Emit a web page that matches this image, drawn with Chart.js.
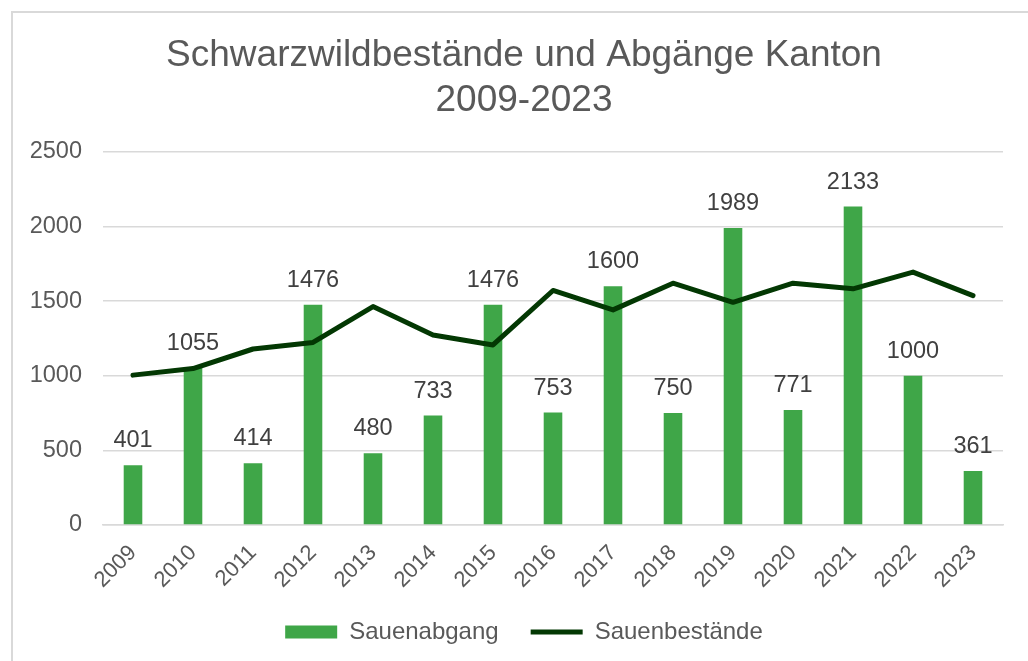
<!DOCTYPE html>
<html>
<head>
<meta charset="utf-8">
<script src="https://cdn.jsdelivr.net/npm/chart.js@4/dist/chart.umd.min.js"></script>
<style>
  html, body { margin: 0; padding: 0; background: #fff; overflow: hidden; width: 1028px; height: 661px; }
  #frame { position: absolute; left: 11px; top: 11px; width: 1040px; height: 700px; border: 2px solid #d9d9d9; box-sizing: border-box; }
  #wrap { position: absolute; left: 13px; top: 13px; width: 1022px; height: 648px; }
</style>
</head>
<body>
<div id="frame"></div>
<div id="wrap"><canvas id="c"></canvas></div>
<script>
const categories = ['2009','2010','2011','2012','2013','2014','2015','2016','2017','2018','2019','2020','2021','2022','2023'];
const sauenabgang = [401, 1055, 414, 1476, 480, 733, 1476, 753, 1600, 750, 1989, 771, 2133, 1000, 361];
const sauenbestaende = [1004, 1048, 1179, 1223, 1463, 1273, 1206, 1571, 1441, 1620, 1492, 1620, 1582, 1694, 1537];
const yTicks = [0, 500, 1000, 1500, 2000, 2500];
const titleLines = ['Schwarzwildbestände und Abgänge Kanton', '2009-2023'];
const seriesNames = ['Sauenabgang', 'Sauenbestände'];

const FONT = '"Liberation Sans", Arial, sans-serif';
const TEXT = '#595959';

const barLabels = {
  id: 'barLabels',
  afterDatasetsDraw(chart) {
    const ctx = chart.ctx;
    const meta = chart.getDatasetMeta(0);
    ctx.save();
    ctx.font = '23.5px ' + FONT;
    ctx.fillStyle = '#404040';
    ctx.textAlign = 'center';
    ctx.textBaseline = 'alphabetic';
    meta.data.forEach((el, i) => {
      ctx.fillText(String(chart.data.datasets[0].data[i]), el.x, el.y - 18);
    });
    ctx.restore();
  }
};

new Chart(document.getElementById('c'), {
  type: 'bar',
  data: {
    labels: categories,
    datasets: [
      {
        type: 'bar',
        label: seriesNames[0],
        data: sauenabgang,
        backgroundColor: '#3fa648',
        borderWidth: 0,
        barPercentage: 0.31,
        categoryPercentage: 1.0,
        pointStyle: 'rect',
        order: 2
      },
      {
        type: 'line',
        label: seriesNames[1],
        data: sauenbestaende,
        borderColor: '#033803',
        backgroundColor: '#033803',
        borderWidth: 5,
        borderCapStyle: 'round',
        borderJoinStyle: 'round',
        pointRadius: 0,
        pointStyle: 'line',
        tension: 0,
        order: 1
      }
    ]
  },
  options: {
    responsive: true,
    maintainAspectRatio: false,
    animation: false,
    layout: { padding: { left: 16, right: 16, top: 0, bottom: 7 } },
    scales: {
      x: {
        offset: true,
        grid: { display: false, drawTicks: false },
        border: { display: true, color: '#d9d9d9', width: 1.5 },
        ticks: { color: TEXT, font: { family: FONT, size: 22 }, minRotation: 45, maxRotation: 45, padding: 15, autoSkip: false },
        afterFit(scale) { scale.height = 63; }
      },
      y: {
        min: yTicks[0], max: yTicks[yTicks.length - 1],
        afterBuildTicks(scale) { scale.ticks = yTicks.map(v => ({ value: v })); },
        grid: { color: '#d9d9d9', lineWidth: 1.5, drawTicks: false },
        border: { display: false },
        ticks: { color: TEXT, font: { family: FONT, size: 23.5 }, padding: 21, callback: v => String(v) },
        afterFit(scale) { scale.width = 74; }
      },
      yRight: {
        position: 'right',
        min: yTicks[0], max: yTicks[yTicks.length - 1],
        grid: { display: false, drawTicks: false },
        border: { display: false },
        ticks: { display: false },
        afterFit(scale) { scale.width = 16; }
      }
    },
    plugins: {
      title: {
        display: true,
        text: titleLines,
        color: TEXT,
        font: { family: FONT, size: 37, weight: 'normal', lineHeight: 1.2 },
        padding: { top: 21, bottom: 29 }
      },
      legend: {
        display: true,
        position: 'bottom',
        labels: {
          usePointStyle: true,
          pointStyleWidth: 52,
          boxHeight: 13,
          color: TEXT,
          font: { family: FONT, size: 24 },
          padding: 32,
          sort: (a, b) => a.datasetIndex - b.datasetIndex
        }
      },
      tooltip: { enabled: false }
    }
  },
  plugins: [barLabels]
});
</script>
</body>
</html>
